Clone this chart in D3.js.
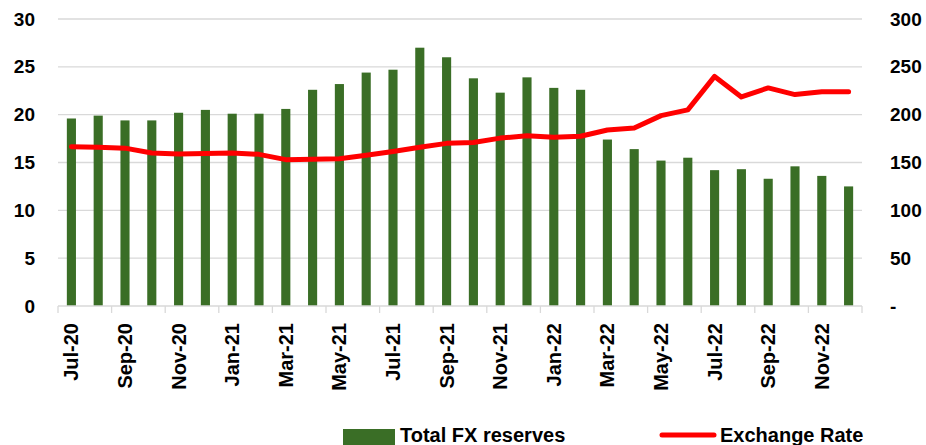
<!DOCTYPE html>
<html>
<head>
<meta charset="utf-8">
<script src="https://cdn.jsdelivr.net/npm/d3@7"></script>
<style>
  body { margin: 0; background: #fff; }
  svg text { font-family: "Liberation Sans Narrow", "Liberation Sans", sans-serif; font-weight: bold; fill: #000; }
</style>
</head>
<body>
<div id="chart"></div>
<script>
// months, Jul-20 .. Dec-22
const months = ["Jul-20","Aug-20","Sep-20","Oct-20","Nov-20","Dec-20","Jan-21","Feb-21","Mar-21","Apr-21",
  "May-21","Jun-21","Jul-21","Aug-21","Sep-21","Oct-21","Nov-21","Dec-21","Jan-22","Feb-22",
  "Mar-22","Apr-22","May-22","Jun-22","Jul-22","Aug-22","Sep-22","Oct-22","Nov-22","Dec-22"];

// total FX reserves (left axis)
const reserves = [19.6, 19.9, 19.4, 19.4, 20.2, 20.5, 20.1, 20.1, 20.6, 22.6,
  23.2, 24.4, 24.7, 27.0, 26.0, 23.8, 22.3, 23.9, 22.8, 22.6,
  17.4, 16.4, 15.2, 15.5, 14.2, 14.3, 13.3, 14.6, 13.6, 12.5];

// exchange rate (right axis)
const rate = [166.5, 166, 165, 160, 159, 159.5, 160, 158.5, 153, 153.5,
  154, 157.5, 161.5, 166, 170, 171, 175.5, 178, 176.5, 177.5,
  184, 186, 199, 205, 240, 218.5, 228, 221, 224, 224];

const leftTicks = [0, 5, 10, 15, 20, 25, 30];
const rightTicks = [0, 50, 100, 150, 200, 250, 300];

const W = 926, H = 445;
const margin = { top: 19, left: 58, right: 64, bottom: 139 };
const innerW = W - margin.left - margin.right;
const innerH = H - margin.top - margin.bottom;

const green = "#3a6e26", red = "#ff0000";

const svg = d3.select("#chart").append("svg")
  .attr("width", W).attr("height", H);

const g = svg.append("g").attr("transform", `translate(${margin.left},${margin.top})`);

const x = d3.scaleBand().domain(months).range([0, innerW]).paddingInner(0.66).paddingOuter(0.33);
const yL = d3.scaleLinear().domain([0, 30]).range([innerH, 0]);
const yR = d3.scaleLinear().domain([0, 300]).range([innerH, 0]);

// gridlines
g.selectAll(".grid")
  .data(leftTicks.slice(1))
  .join("line")
  .attr("x1", 0).attr("x2", innerW)
  .attr("y1", d => yL(d)).attr("y2", d => yL(d))
  .attr("stroke", "#d9d9d9").attr("stroke-width", 1.3);

// left axis labels
g.selectAll(".ylab")
  .data(leftTicks)
  .join("text")
  .attr("x", -23).attr("y", d => yL(d))
  .attr("dy", "0.35em")
  .attr("text-anchor", "end")
  .style("font-size", "19px")
  .text(d => d);

// right axis labels
g.selectAll(".rlab")
  .data(rightTicks)
  .join("text")
  .attr("x", innerW + 28).attr("y", d => yR(d))
  .attr("dy", "0.35em")
  .style("font-size", "19px")
  .text(d => d === 0 ? "-" : d);

// bars
g.selectAll(".bar")
  .data(reserves)
  .join("rect")
  .attr("x", (d, i) => x(months[i]))
  .attr("width", x.bandwidth())
  .attr("y", d => yL(d))
  .attr("height", d => innerH - yL(d))
  .attr("fill", green);

// x axis line and ticks
const step = x.step();
g.append("line")
  .attr("x1", 0).attr("x2", innerW)
  .attr("y1", innerH).attr("y2", innerH)
  .attr("stroke", "#d9d9d9").attr("stroke-width", 1.3);

g.selectAll(".xtick")
  .data(d3.range(0, months.length + 1, 2))
  .join("line")
  .attr("x1", d => d * step).attr("x2", d => d * step)
  .attr("y1", innerH).attr("y2", innerH + 7)
  .attr("stroke", "#d9d9d9").attr("stroke-width", 1.3);

// x labels, every other month, rotated
g.selectAll(".xlab")
  .data(months.filter((m, i) => i % 2 === 0))
  .join("text")
  .attr("transform", d => `translate(${x(d) + x.bandwidth() / 2 + 7},${innerH + 17}) rotate(-90)`)
  .attr("text-anchor", "end")
  .style("font-size", "20px")
  .text(d => d);

// exchange rate line
const line = d3.line()
  .x((d, i) => x(months[i]) + x.bandwidth() / 2)
  .y(d => yR(d));

g.append("path")
  .datum(rate)
  .attr("d", line)
  .attr("fill", "none")
  .attr("stroke", red)
  .attr("stroke-width", 5)
  .attr("stroke-linejoin", "round")
  .attr("stroke-linecap", "round");

// legend
const leg = svg.append("g");
leg.append("rect")
  .attr("x", 343).attr("y", 429).attr("width", 52).attr("height", 18)
  .attr("fill", green);
leg.append("text")
  .attr("x", 400).attr("y", 442)
  .style("font-size", "20px")
  .text("Total FX reserves");
leg.append("line")
  .attr("x1", 662).attr("x2", 714)
  .attr("y1", 435).attr("y2", 435)
  .attr("stroke", red).attr("stroke-width", 5)
  .attr("stroke-linecap", "round");
leg.append("text")
  .attr("x", 720).attr("y", 442)
  .style("font-size", "20px")
  .text("Exchange Rate");
</script>
</body>
</html>
